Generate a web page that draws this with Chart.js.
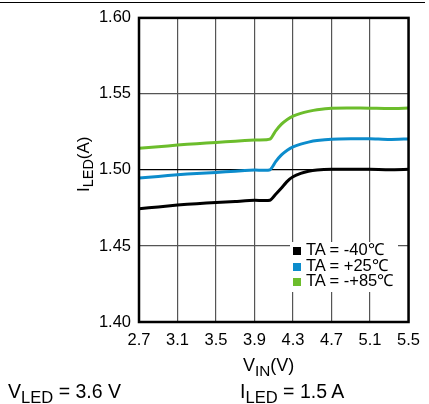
<!DOCTYPE html>
<html>
<head>
<meta charset="utf-8">
<script src="https://cdn.jsdelivr.net/npm/chart.js@4"></script>
<style>
  body { margin: 0; background: #fff; font-family: "Liberation Sans", Arial, sans-serif; }
  #wrap { position: relative; width: 429px; height: 404px; overflow: hidden; }
  #topline { position: absolute; left: 0; top: 2px; width: 425px; height: 0; border-top: 1.5px solid #000; }
  .lbl { position: absolute; white-space: nowrap; color: #000; line-height: 1; }
  .lbl sub { font-size: 0.85em; vertical-align: -0.3em; line-height: 0; }
  #ytitle { font-size: 17px; transform-origin: left top; transform: rotate(-90deg); }
  #legend { position: absolute; left: 290px; top: 242px; width: 108px; height: 50px; background: #fff; font-size: 16.5px; line-height: 15.5px; }
  #legend div { position: relative; padding-left: 16px; }
  #legend span { position: absolute; left: 3px; top: 5px; width: 8px; height: 8px; }
</style>
</head>
<body>
<div id="wrap">
  <canvas id="chart" width="429" height="404"></canvas>
  <div id="topline"></div>
  <div class="lbl" id="ytitle" style="left:75px; top:192px;">I<sub>LED</sub>(A)</div>
  <div class="lbl" style="left:243px; top:356px; font-size:18px;">V<sub>IN</sub>(V)</div>
  <div class="lbl" style="left:8px; top:382px; font-size:19.5px;">V<sub>LED</sub> = 3.6 V</div>
  <div class="lbl" style="left:240px; top:382px; font-size:19.5px;">I<sub>LED</sub> = 1.5 A</div>
  <div id="legend"></div>
</div>
<script>
const vin = [2.7, 2.9, 3.1, 3.3, 3.5, 3.7, 3.9, 4.06, 4.12, 4.18, 4.24, 4.3, 4.38, 4.46, 4.55, 4.7, 4.9, 5.1, 5.3, 5.5];
const tempLabels = ['TA = -40\u2103', 'TA = +25\u2103', 'TA = -+85\u2103'];
const iMinus40 = [1.4745, 1.4757, 1.4769, 1.4778, 1.4786, 1.4793, 1.4800, 1.4801, 1.4840, 1.4881, 1.4925, 1.4955, 1.4977, 1.4991, 1.4999, 1.5004, 1.5005, 1.5005, 1.5002, 1.5004];
const iPlus25 = [1.4947, 1.4957, 1.4969, 1.4977, 1.4984, 1.4992, 1.4999, 1.5001, 1.5055, 1.5099, 1.5130, 1.5152, 1.5170, 1.5183, 1.5193, 1.5202, 1.5205, 1.5205, 1.5200, 1.5204];
const iPlus85 = [1.5142, 1.5152, 1.5164, 1.5173, 1.5181, 1.5189, 1.5197, 1.5202, 1.5257, 1.5301, 1.5332, 1.5354, 1.5372, 1.5385, 1.5396, 1.5406, 1.5407, 1.5406, 1.5404, 1.5407];
const xTicks = [2.7, 3.1, 3.5, 3.9, 4.3, 4.7, 5.1, 5.5];
const yTicks = [1.40, 1.45, 1.50, 1.55, 1.60];
const colors = ['#000000', '#0c8ccc', '#6cbd2c'];

function pts(ys) {
  return vin.map((x, i) => ({ x: x, y: ys[i] }));
}

// legend as html, white box over the grid
const leg = document.getElementById('legend');
tempLabels.forEach(function(t, i) {
  const row = document.createElement('div');
  row.innerHTML = '<span style="background:' + colors[i] + '"></span>' + t;
  leg.appendChild(row);
});

const frame = {
  id: 'frame',
  afterDraw: function(chart) {
    const a = chart.chartArea, c = chart.ctx;
    c.save();
    c.strokeStyle = '#000';
    c.lineWidth = 2.5;
    c.strokeRect(a.left, a.top, a.right - a.left, a.bottom - a.top);
    c.restore();
  }
};

new Chart(document.getElementById('chart'), {
  type: 'line',
  data: {
    datasets: [
      { label: tempLabels[0], data: pts(iMinus40), borderColor: colors[0], borderWidth: 3 },
      { label: tempLabels[1], data: pts(iPlus25), borderColor: colors[1], borderWidth: 3 },
      { label: tempLabels[2], data: pts(iPlus85), borderColor: colors[2], borderWidth: 3 }
    ]
  },
  options: {
    responsive: false,
    animation: false,
    layout: { padding: { top: 15, right: 14, left: 0, bottom: 0 } },
    elements: { point: { radius: 0 }, line: { tension: 0.2 } },
    plugins: { legend: { display: false }, tooltip: { enabled: false } },
    scales: {
      x: {
        type: 'linear', min: 2.7, max: 5.5,
        afterBuildTicks: function(s) { s.ticks = xTicks.map(v => ({ value: v })); },
        afterFit: function(s) { s.height = 82; },
        grid: { color: '#555', lineWidth: 1.2, drawTicks: false },
        border: { display: false },
        ticks: { color: '#000', padding: 9, maxRotation: 0, font: { family: 'Liberation Sans', size: 16.5 },
          callback: v => v.toFixed(1) }
      },
      y: {
        type: 'linear', min: 1.40, max: 1.60,
        afterBuildTicks: function(s) { s.ticks = yTicks.map(v => ({ value: v })); },
        afterFit: function(s) { s.width = 139; },
        grid: { color: c => (c.tick && Math.abs(c.tick.value - 1.5) < 1e-6) ? '#000' : '#555', lineWidth: 1.2, drawTicks: false },
        border: { display: false },
        ticks: { color: '#000', padding: 8, font: { family: 'Liberation Sans', size: 16.5 },
          callback: v => v.toFixed(2) }
      }
    }
  },
  plugins: [frame]
});
</script>
</body>
</html>
